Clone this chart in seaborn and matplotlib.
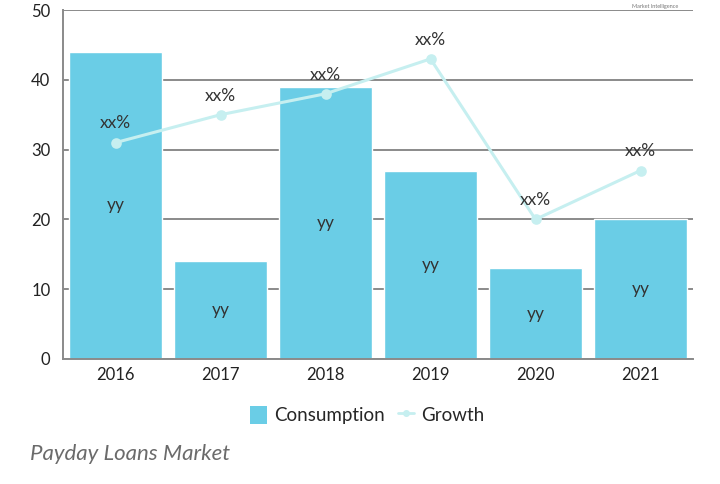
import matplotlib
matplotlib.use("Agg")
import matplotlib.pyplot as plt
import seaborn as sns
import pandas as pd
from matplotlib.patches import Patch
from matplotlib.lines import Line2D

years = ["2016", "2017", "2018", "2019", "2020", "2021"]
consumption = [44, 14, 39, 27, 13, 20]
growth = [31, 35, 38, 43, 20, 27]
bar_labels = ["yy"] * 6
point_labels = ["xx%"] * 6
yticks = [0, 10, 20, 30, 40, 50]

sns.set_theme(style="white")
plt.rcParams["font.family"] = ["Lato", "DejaVu Sans"]

bar_color = "#6acde6"
line_color = "#c6eff0"
text_color = "#333333"

df = pd.DataFrame({"Year": years, "Consumption": consumption, "Growth": growth})

fig = plt.figure(figsize=(7.2, 4.84), dpi=100)
ax = fig.add_axes([0.0875, 0.2583, 0.875, 0.721])

ax.set_axisbelow(True)
ax.yaxis.grid(True, color="#8a8a8a", linewidth=1.4)
sns.barplot(data=df, x="Year", y="Consumption", color=bar_color, width=0.886,
            saturation=1, ax=ax, zorder=2)
sns.pointplot(data=df, x="Year", y="Growth", color=line_color, ax=ax,
              markers="o", linewidth=2.2, markersize=6, zorder=3)

for i, (c, g) in enumerate(zip(consumption, growth)):
    ax.text(i, c / 2, bar_labels[i], ha="center", va="center", fontsize=12.5,
            color=text_color, zorder=4)
    ax.text(i, g + 1.6, point_labels[i], ha="center", va="bottom", fontsize=12.5,
            color=text_color, zorder=4)

ax.set_ylim(0, 50)
ax.set_xlim(-0.5, 5.5)
ax.set_yticks(yticks)
ax.set_yticklabels([str(t) for t in yticks], fontsize=12, color="#222222")
ax.tick_params(axis="x", labelsize=12, colors="#222222", length=0, pad=6)
ax.tick_params(axis="y", length=5, width=1.2, color="#8a8a8a", pad=4)
ax.set_xlabel("")
ax.set_ylabel("")
for s in ["top", "right"]:
    ax.spines[s].set_visible(False)
ax.spines["left"].set_color("#8a8a8a")
ax.spines["left"].set_linewidth(1.4)
ax.spines["bottom"].set_color("#8a8a8a")
ax.spines["bottom"].set_linewidth(1.4)

handles = [Patch(facecolor=bar_color, edgecolor="none", label="Consumption"),
           Line2D([0], [0], color=line_color, lw=2, marker="o", markersize=4, label="Growth")]
fig.legend(handles=handles, loc="center", bbox_to_anchor=(0.51, 0.143), ncol=2,
           frameon=False, fontsize=13.5, handlelength=0.9, handleheight=1.1,
           handletextpad=0.35, columnspacing=0.7)

fig.text(0.042, 0.063, "Payday Loans Market", fontsize=16, style="italic",
         color="#6b6b6b", ha="left", va="center")
fig.text(0.91, 0.992, "Market Intelligence", fontsize=4, color="#777777",
         ha="center", va="top")

fig.savefig("out.png", dpi=100)
